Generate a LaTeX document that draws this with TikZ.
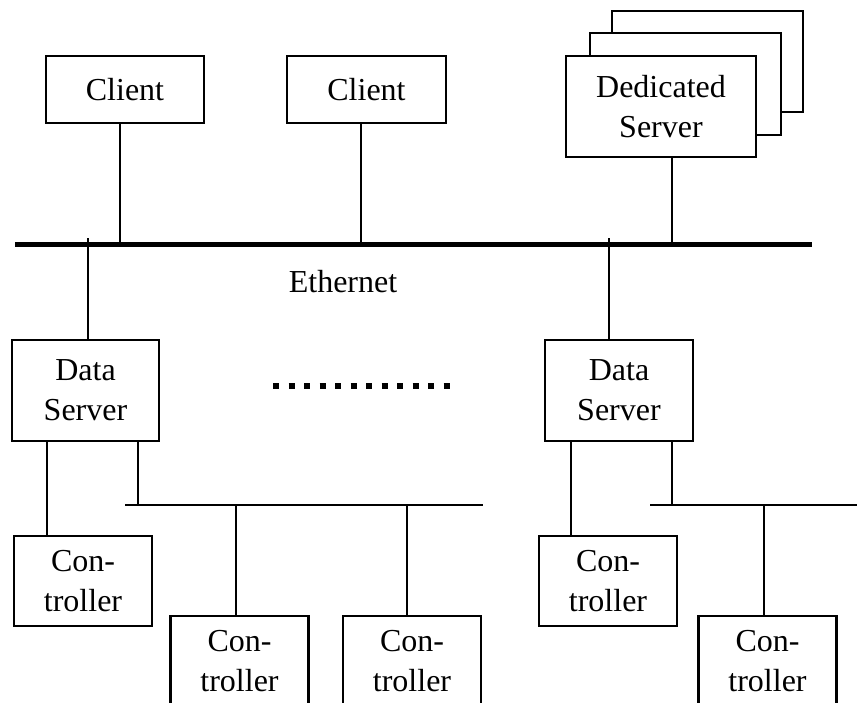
\documentclass[tikz,border=0pt]{standalone}
\usepackage{fontspec}
\setmainfont{Liberation Serif}

\begin{document}
\begin{tikzpicture}[x=1pt, y=-1pt, line width=2pt,
	every node/.style={font=\fontsize{32}{40}\selectfont},
	box/.style={draw, line width=2.2pt, fill=white, inner sep=0pt, align=center},
	unit/.style={box, minimum width=138pt, minimum height=90pt}]
					\clip (0,0) rectangle (857,702);
					
					% top row
					\node[box, minimum width=158pt, minimum height=67pt] (cl1) at (125,89.5) {Client};
					\node[box, minimum width=159pt, minimum height=67pt] (cl2) at (366.5,89.5) {Client};
					\node[box, minimum width=191pt, minimum height=101pt] (dedC) at (707.5,61.5) {};
					\node[box, minimum width=191pt, minimum height=102pt] (dedB) at (685.5,84) {};
					\node[box, minimum width=190pt, minimum height=101pt] (dedA) at (661,106.5) {Dedicated\\Server};
					
					% ethernet
					\coordinate (ethW) at (15,244);
					\coordinate (ethE) at (812,244);
					\draw[line width=5pt] (ethW) -- (ethE);
					\node (eth) at (343,282) {Ethernet};
					\draw ([xshift=-5pt]cl1.south) -- ([xshift=-5pt]cl1.south |- ethW);
					\draw ([xshift=-5.5pt]cl2.south) -- ([xshift=-5.5pt]cl2.south |- ethW);
					\draw ([xshift=11pt]dedA.south) -- ([xshift=11pt]dedA.south |- ethW);
					
					% data servers
					\node[box, minimum width=147pt, minimum height=101pt] (dsv1) at (85.5,390.5) {Data\\Server};
					\node[box, minimum width=148pt, minimum height=101pt] (dsv2) at (619,390.5) {Data\\Server};
					\coordinate (tap1) at (88,238);
					\coordinate (tap2) at (609,238);
					\draw (tap1) -- (tap1 |- dsv1.north);
					\draw (tap2) -- (tap2 |- dsv2.north);
					
					\coordinate (dotW) at (273,386);
					\coordinate (dotE) at (452,386);
					\draw[line width=6pt, dash pattern=on 6pt off 9.5pt] (dotW) -- (dotE);
					
					% field buses
					\coordinate (busAW) at (125,505);
					\coordinate (busAE) at (483,505);
					\coordinate (busBW) at (650,505);
					\coordinate (busBE) at (857,505);
					\draw (busAW) -- (busAE);
					\draw (busBW) -- (busBE);
					
					% controllers
					\node[unit] (ct1) at (83,581) {Con-\\troller};
					\node[unit] (ct2) at (239.5,661) {Con-\\troller};
					\node[unit] (ct3) at (412,661) {Con-\\troller};
					\node[unit] (ct4) at (608,581) {Con-\\troller};
					\node[unit] (ct5) at (767.5,661) {Con-\\troller};
					
					\draw ([xshift=-38.5pt]dsv1.south) -- ([xshift=-38.5pt]dsv1.south |- ct1.north);
					\draw ([xshift=52.5pt]dsv1.south) -- ([xshift=52.5pt]dsv1.south |- busAW);
					\draw ([xshift=-3.5pt]ct2.north) -- ([xshift=-3.5pt]ct2.north |- busAW);
					\draw ([xshift=-5pt]ct3.north) -- ([xshift=-5pt]ct3.north |- busAW);
					
					\draw ([xshift=-48pt]dsv2.south) -- ([xshift=-48pt]dsv2.south |- ct4.north);
					\draw ([xshift=53pt]dsv2.south) -- ([xshift=53pt]dsv2.south |- busBW);
					\draw ([xshift=-3.5pt]ct5.north) -- ([xshift=-3.5pt]ct5.north |- busBW);
				\end{tikzpicture}
\end{document}
